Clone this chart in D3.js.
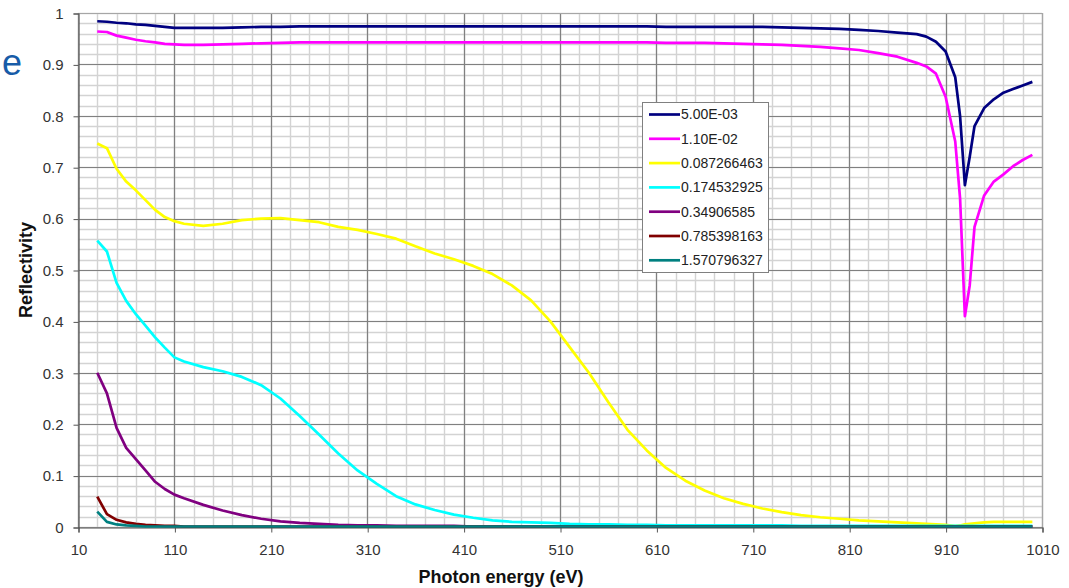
<!DOCTYPE html>
<html>
<head>
<meta charset="utf-8">
<script src="https://cdn.jsdelivr.net/npm/d3@7"></script>
<style>
  body{margin:0;background:#fff;}
  svg{display:block;font-family:'Liberation Sans',Arial,sans-serif;}
</style>
</head>
<body>
<div id="mainPlot"></div>
<script>
var width=1069;
var height=588;

// photon energy grid (eV)
var energy=[30,40,50,60,70,80,90,100,110,120,140,160,180,200,220,240,260,280,300,320,
  340,360,380,400,420,440,460,480,500,520,540,560,580,600,620,640,660,680,700,720,
  740,760,780,800,820,840,860,880,890,900,910,920,925,930,935,940,950,960,970,980,990,1000];

var r_0005=[0.984,0.983,0.981,0.980,0.978,0.977,0.975,0.973,0.971,0.971,0.971,0.971,0.972,0.973,0.973,0.974,0.974,0.974,0.974,0.974,
  0.974,0.974,0.974,0.974,0.974,0.974,0.974,0.974,0.974,0.974,0.974,0.974,0.974,0.974,0.973,0.973,0.973,0.973,0.973,0.973,
  0.972,0.971,0.970,0.969,0.967,0.965,0.962,0.959,0.954,0.944,0.925,0.875,0.800,0.665,0.720,0.780,0.815,0.832,0.845,0.852,0.859,0.866];

var r_0011=[0.964,0.963,0.956,0.952,0.948,0.945,0.943,0.940,0.939,0.938,0.938,0.939,0.940,0.941,0.942,0.943,0.943,0.943,0.943,0.943,
  0.943,0.943,0.943,0.943,0.943,0.943,0.943,0.943,0.943,0.943,0.943,0.943,0.943,0.943,0.942,0.942,0.942,0.941,0.940,0.939,
  0.938,0.936,0.934,0.931,0.928,0.922,0.915,0.903,0.896,0.882,0.837,0.750,0.640,0.410,0.470,0.584,0.645,0.672,0.686,0.702,0.714,0.724];

var r_0087=[0.746,0.737,0.697,0.672,0.655,0.636,0.617,0.603,0.595,0.590,0.586,0.590,0.597,0.600,0.601,0.597,0.593,0.584,0.578,0.570,
  0.561,0.546,0.532,0.521,0.508,0.492,0.470,0.441,0.400,0.350,0.300,0.243,0.189,0.149,0.115,0.090,0.071,0.056,0.045,0.036,
  0.029,0.023,0.019,0.016,0.013,0.011,0.009,0.007,0.006,0.005,0.004,0.002,0.003,0.005,0.006,0.007,0.009,0.010,0.010,0.010,0.010,0.010];

var r_0175=[0.557,0.536,0.475,0.440,0.414,0.392,0.369,0.349,0.330,0.322,0.311,0.303,0.292,0.276,0.250,0.216,0.180,0.143,0.110,0.084,
  0.060,0.044,0.033,0.024,0.018,0.013,0.010,0.009,0.008,0.006,0.005,0.005,0.004,0.004,0.003,0.003,0.003,0.003,0.003,0.003,
  0.003,0.002,0.002,0.002,0.002,0.002,0.002,0.002,0.002,0.002,0.002,0.002,0.002,0.002,0.002,0.002,0.002,0.002,0.002,0.002,0.002,0.002];

var r_0349=[0.300,0.260,0.193,0.154,0.132,0.110,0.088,0.074,0.063,0.056,0.043,0.032,0.023,0.016,0.011,0.008,0.006,0.004,0.003,0.003,
  0.002,0.002,0.002,0.002,0.001,0.001,0.001,0.001,0.001,0.001,0.001,0.001,0.001,0.001,0.001,0.001,0.001,0.001,0.001,0.001,
  0.001,0.001,0.001,0.001,0.001,0.001,0.001,0.001,0.001,0.001,0.001,0.001,0.001,0.001,0.001,0.001,0.001,0.001,0.001,0.001,0.001,0.001];

var r_0785=[0.059,0.025,0.014,0.009,0.006,0.004,0.003,0.002,0.002,0.001,0.001,0.001,0.001,0.001,0.001,0.001,0.001,0.001,0.001,0.001,
  0.001,0.001,0.001,0.001,0.001,0.001,0.001,0.001,0.001,0.001,0.001,0.001,0.001,0.001,0.001,0.001,0.001,0.001,0.001,0.001,
  0.001,0.001,0.001,0.001,0.001,0.001,0.001,0.001,0.001,0.001,0.001,0.001,0.001,0.001,0.001,0.001,0.001,0.001,0.001,0.001,0.001,0.001];

var r_1571=[0.030,0.010,0.005,0.003,0.002,0.001,0.001,0.001,0.001,0.001,0.001,0.001,0.001,0.001,0.001,0.001,0.001,0.001,0.001,0.001,
  0.001,0.001,0.001,0.001,0.001,0.001,0.001,0.001,0.001,0.001,0.001,0.001,0.001,0.001,0.001,0.001,0.001,0.001,0.001,0.001,
  0.001,0.001,0.001,0.001,0.001,0.001,0.001,0.001,0.001,0.001,0.001,0.001,0.001,0.001,0.001,0.001,0.001,0.001,0.001,0.001,0.001,0.001];

var seriesNames=['5.00E-03','1.10E-02','0.087266463','0.174532925','0.34906585','0.785398163','1.570796327'];
var seriesValues=[r_0005,r_0011,r_0087,r_0175,r_0349,r_0785,r_1571];
var seriesColors=['#000080','#FF00FF','#FFFF00','#00FFFF','#800080','#800000','#008080'];

var xTicks=[10,110,210,310,410,510,610,710,810,910,1010];
var yTicks=[0,0.1,0.2,0.3,0.4,0.5,0.6,0.7,0.8,0.9,1];

var plotLeft=78,plotRight=1042,plotTop=13,plotBottom=527;

var x=d3.scaleLinear().domain([10,1010]).range([plotLeft,plotRight]);
var y=d3.scaleLinear().domain([0,1]).range([plotBottom,plotTop]);

var svg=d3.select('#mainPlot').append('svg')
  .attr('width',width)
  .attr('height',height);

// light minor grid: 20 eV and 0.02 steps
var minorX=d3.range(10,1011,20);
var minorY=d3.range(0,51).map(function(i){return i*0.02;});

svg.append('g').selectAll('line')
  .data(minorX)
  .enter().append('line')
  .attr('x1',function(d){return Math.round(x(d))+0.5;})
  .attr('x2',function(d){return Math.round(x(d))+0.5;})
  .attr('y1',plotTop).attr('y2',plotBottom)
  .attr('stroke','#d3d3d3').attr('stroke-width',1.4);

svg.append('g').selectAll('line')
  .data(minorY)
  .enter().append('line')
  .attr('y1',function(d){return Math.round(y(d))+0.5;})
  .attr('y2',function(d){return Math.round(y(d))+0.5;})
  .attr('x1',plotLeft).attr('x2',plotRight)
  .attr('stroke','#d3d3d3').attr('stroke-width',1.4);

// dark major grid
svg.append('g').selectAll('line')
  .data(xTicks)
  .enter().append('line')
  .attr('x1',function(d){return Math.round(x(d))+0.5;})
  .attr('x2',function(d){return Math.round(x(d))+0.5;})
  .attr('y1',plotTop).attr('y2',plotBottom)
  .attr('stroke','#808080').attr('stroke-width',1.2);

svg.append('g').selectAll('line')
  .data(yTicks)
  .enter().append('line')
  .attr('y1',function(d){return Math.round(y(d))+0.5;})
  .attr('y2',function(d){return Math.round(y(d))+0.5;})
  .attr('x1',plotLeft).attr('x2',plotRight)
  .attr('stroke','#808080').attr('stroke-width',1.2);

// plot frame
svg.append('rect')
  .attr('x',plotLeft+0.5).attr('y',plotTop+0.5)
  .attr('width',plotRight-plotLeft).attr('height',plotBottom-plotTop)
  .attr('fill','none').attr('stroke','#a6a6a6').attr('stroke-width',1);

// axes
var yAxis=d3.axisLeft(y).tickValues(yTicks).tickSize(5).tickPadding(10)
  .tickFormat(function(d){return d==0||d==1?String(d):d3.format('.1f')(d);});
var xAxis=d3.axisBottom(x).tickValues(xTicks).tickSize(5).tickPadding(12)
  .tickFormat(d3.format('d'));

var gy=svg.append('g').attr('transform','translate('+(plotLeft+0.5)+',0.5)').call(yAxis);
var gx=svg.append('g').attr('transform','translate(0.5,'+(plotBottom+0.5)+')').call(xAxis);

[gx,gy].forEach(function(g){
  g.select('.domain').attr('stroke','#555').attr('stroke-width',1.2);
  g.selectAll('.tick line').attr('stroke','#555');
  g.selectAll('.tick text').attr('fill','#333').style('font-size','15px');
});

// reflectivity curves
var line=d3.line()
  .x(function(d){return x(d[0]);})
  .y(function(d){return y(d[1]);});

seriesValues.forEach(function(vals,k){
  var pts=energy.map(function(e,i){return [e,vals[i]];});
  svg.append('path')
    .datum(pts)
    .attr('d',line)
    .attr('fill','none')
    .attr('stroke',seriesColors[k])
    .attr('stroke-width',2.7)
    .attr('stroke-linejoin','round');
});

// legend
var legend=svg.append('g').attr('transform','translate(642,102)');
legend.append('rect')
  .attr('x',0.5).attr('y',0.5)
  .attr('width',126).attr('height',170)
  .attr('fill','#fff').attr('stroke','#808080').attr('stroke-width',1);

var rows=legend.selectAll('g.row')
  .data(seriesNames)
  .enter().append('g')
  .attr('class','row')
  .attr('transform',function(d,i){return 'translate(0,'+(12.5+i*24.3)+')';});

rows.append('line')
  .attr('x1',7).attr('x2',38)
  .attr('y1',0).attr('y2',0)
  .attr('stroke',function(d,i){return seriesColors[i];})
  .attr('stroke-width',2.7);

rows.append('text')
  .attr('x',39).attr('y',0)
  .attr('dy','0.35em')
  .attr('fill','#222')
  .style('font-size','14px')
  .text(function(d){return d;});

// axis titles
svg.append('text')
  .attr('transform','translate(32,270) rotate(-90)')
  .attr('text-anchor','middle')
  .style('font-size','18px').style('font-weight','bold')
  .attr('fill','#111')
  .text('Reflectivity');

svg.append('text')
  .attr('x',501).attr('y',583)
  .attr('text-anchor','middle')
  .style('font-size','18px').style('font-weight','bold')
  .attr('fill','#111')
  .text('Photon energy (eV)');

svg.append('text')
  .attr('x',2).attr('y',75)
  .style('font-size','36px')
  .attr('fill','#175ca8')
  .text('e');
</script>
</body>
</html>
